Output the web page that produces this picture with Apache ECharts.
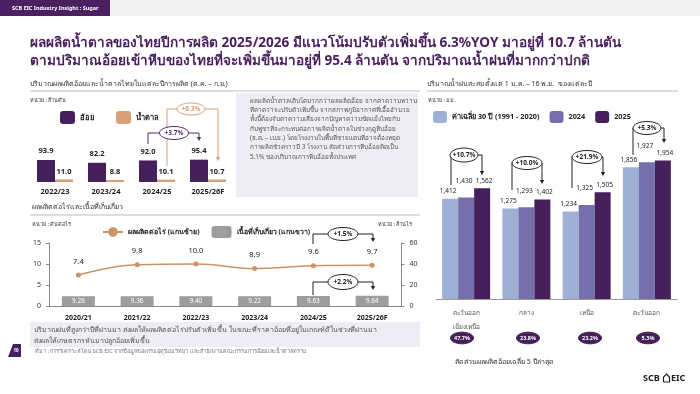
<!DOCTYPE html>
<html><head><meta charset="utf-8">
<script src="https://cdn.jsdelivr.net/npm/echarts@6/dist/echarts.min.js"></script>
<style>html,body{margin:0;padding:0;background:#fff}#c{width:700px;height:394px}</style>
</head><body><div id="c"></div>
<script>
// ---------------- DATA ----------------
const caneCats = ['2022/23', '2023/24', '2024/25', '2025/26F'];
const caneValues = [93.9, 82.2, 92.0, 95.4];
const sugarValues = [11.0, 8.8, 10.1, 10.7];

const yieldCats = ['2020/21', '2021/22', '2022/23', '2023/24', '2024/25', '2025/26F'];
const yieldPerRai = [7.4, 9.8, 10.0, 8.9, 9.6, 9.7];
const harvestArea = [9.28, 9.36, 9.40, 9.22, 9.63, 9.84];
const yieldLeftAxis = { min: 0, max: 15, interval: 5 };
const yieldRightAxis = { min: 0, max: 60, interval: 20 };

const rainCats = ['ตะวันออก\nเฉียงเหนือ', 'กลาง', 'เหนือ', 'ตะวันออก'];
const rainAvg30 = [1412, 1275, 1234, 1856];
const rain2024 = [1430, 1293, 1325, 1927];
const rain2025 = [1562, 1402, 1505, 1954];
const caneShare = ['47.7%', '23.8%', '23.2%', '5.3%'];

const caneChangeLabels = ['+3.7%', '+6.3%'];
const yieldChangeLabels = ['+1.5%', '+2.2%'];
const rainChangeLabels = ['+10.7%', '+10.0%', '+21.9%', '+5.3%'];

// ---------------- STYLE ----------------
const FF = "'Noto Sans', 'DejaVu Sans', sans-serif";
const PURPLE = '#46205a', ORANGE = '#d9a077', LINEOR = '#cc9268', GRAY = '#9d9d9d';
const R1 = '#9fb0d4', R2 = '#7570ab', R3 = '#46205a';
const TITLE = '#4a1f5f', BOXBG = '#eeedf3';

function fmt(v) { return v.toLocaleString('en-US'); }

const chart = echarts.init(document.getElementById('c'), null, { renderer: 'canvas' });

function txt(text, x, y, size, color, weight, align) {
  return { type: 'text', z: 50, style: { text, x, y, fill: color || '#333', font: (weight || 'normal') + ' ' + size + 'px ' + FF,
    textAlign: align || 'left', align: align || 'left', textVerticalAlign: 'middle', verticalAlign: 'middle' } };
}
function pline(points, color, z) {
  return { type: 'polyline', z: z || 40, shape: { points }, style: { stroke: color, lineWidth: 1, fill: null } };
}
function arrow(x, y, color) {
  return { type: 'polygon', z: 40, shape: { points: [[x - 2.2, y - 4], [x + 2.2, y - 4], [x, y]] }, style: { fill: color } };
}
function ell(cx, cy, rx, ry, stroke, fill, z) {
  return { type: 'ellipse', z: z || 45, shape: { cx, cy, rx, ry }, style: { stroke, fill: fill || '#fff', lineWidth: 1 } };
}
function annot(label, cx, cy, rx, ry, color, left, right, tip) {
  return [
    pline(left, color, 41),
    pline(right, color, 41),
    arrow(tip[0], tip[1], color),
    ell(cx, cy, rx, ry, color, '#fff', 45),
    txt(label, cx, cy, 6.5, color, 'bold', 'center')
  ];
}

const graphics = [];
// header
graphics.push({ type: 'rect', z: 1, shape: { x: 0, y: 0, width: 700, height: 16 }, style: { fill: '#f2f2f2' } });
graphics.push({ type: 'rect', z: 2, shape: { x: 0, y: 0, width: 110, height: 16 }, style: { fill: '#4a2060' } });
graphics.push(txt('SCB EIC Industry Insight : Sugar', 12, 8, 5.5, '#fff', 'bold'));
// title
graphics.push(txt('ผลผลิตน้ำตาลของไทยปีการผลิต 2025/2026 มีแนวโน้มปรับตัวเพิ่มขึ้น 6.3%YOY มาอยู่ที่ 10.7 ล้านตัน', 30, 43, 13.6, TITLE, 'bold'));
graphics.push(txt('ตามปริมาณอ้อยเข้าหีบของไทยที่จะเพิ่มขึ้นมาอยู่ที่ 95.4 ล้านตัน จากปริมาณน้ำฝนที่มากกว่าปกติ', 30, 61, 13.6, TITLE, 'bold'));

// section 1 heading
graphics.push(txt('ปริมาณผลผลิตอ้อยและน้ำตาลไทยในแต่ละปีการผลิต (ต.ค. – ก.ย.)', 30, 84, 7, '#333'));
graphics.push({ type: 'line', z: 5, shape: { x1: 30, y1: 91, x2: 420, y2: 91 }, style: { stroke: '#bdbdbd', lineWidth: 1 } });
graphics.push(txt('หน่วย : ล้านตัน', 30, 100, 5.5, '#333'));
// text box
graphics.push({ type: 'rect', z: 3, shape: { x: 236, y: 93, width: 182, height: 104 }, style: { fill: BOXBG } });
const boxLines = [
  'ผลผลิตน้ำตาลเติบโตมากกว่าผลผลิตอ้อย จากค่าความหวาน',
  'ที่คาดว่าจะปรับตัวเพิ่มขึ้น จากสภาพภูมิอากาศที่เอื้ออำนวย',
  'ทั้งนี้ต้องจับตาความเสี่ยงจากปัญหาความขัดแย้งไทยกับ',
  'กัมพูชาที่จะกระทบต่อการผลิตน้ำตาลในช่วงฤดูหีบอ้อย',
  '(ธ.ค. – เม.ย.) โดยโรงงานในพื้นที่ชายแดนที่อาจต้องหยุด',
  'การผลิตชั่วคราวมี 3 โรงงาน สัดส่วนการหีบอ้อยคิดเป็น',
  '5.1% ของปริมาณการหีบอ้อยทั้งประเทศ'
];
boxLines.forEach((l, i) => graphics.push(txt(l, 250, 101 + i * 9.3, 6.3, '#555')));

// cane annotations (orange drawn first, passes behind purple ellipse)
graphics.push(...annot(caneChangeLabels[1], 191, 109, 14, 6, ORANGE,
  [[167, 166], [167, 109], [177, 109]], [[205, 109], [218, 109], [218, 157]], [218, 161]));
graphics.push(...annot(caneChangeLabels[0], 174, 133, 14.5, 6.5, '#5a2a72',
  [[148, 144], [148, 133], [160, 133]], [[188, 133], [199, 133], [199, 137]], [199, 141]));

// section 2 heading
graphics.push(txt('ผลผลิตต่อไร่และเนื้อที่เก็บเกี่ยว', 32, 207, 7, '#333'));
graphics.push({ type: 'line', z: 5, shape: { x1: 30, y1: 215, x2: 420, y2: 215 }, style: { stroke: '#bdbdbd', lineWidth: 1 } });
graphics.push(txt('หน่วย : ตันต่อไร่', 32, 224, 5.5, '#333'));
graphics.push(txt('หน่วย : ล้านไร่', 378, 224, 5.5, '#333'));
graphics.push(...annot(yieldChangeLabels[0], 343, 234, 15, 6.5, '#222',
  [[313, 244], [313, 234], [328, 234]], [[358, 234], [373, 234], [373, 238]], [373, 242]));
graphics.push(...annot(yieldChangeLabels[1], 343, 282, 15, 7.5, '#222',
  [[313, 295], [313, 282], [328, 282]], [[358, 282], [373, 282], [373, 286]], [373, 290]));
// bottom text box
graphics.push({ type: 'rect', z: 3, shape: { x: 30, y: 322, width: 390, height: 25 }, style: { fill: BOXBG } });
graphics.push(txt('ปริมาณฝนที่สูงกว่าปีที่ผ่านมา ส่งผลให้ผลผลิตต่อไร่ปรับตัวเพิ่มขึ้น ในขณะที่ราคาอ้อยที่อยู่ในเกณฑ์ดีในช่วงที่ผ่านมา', 34, 329.5, 7, '#555'));
graphics.push(txt('ส่งผลให้เกษตรกรหันมาปลูกอ้อยเพิ่มขึ้น', 34, 340.5, 7, '#555'));

// footer
graphics.push({ type: 'polygon', z: 5, shape: { points: [[8, 357], [21, 357], [21, 344], [13, 344]] }, style: { fill: '#4a2060' } });
graphics.push(txt('10', 16, 351, 4.5, '#fff', 'bold', 'center'));
graphics.push(txt('ที่มา : การวิเคราะห์โดย SCB EIC จากข้อมูลของกรมอุตุนิยมวิทยา และสำนักงานคณะกรรมการอ้อยและน้ำตาลทราย', 35, 351, 5.5, '#777'));

// section 3 heading
graphics.push(txt('ปริมาณน้ำฝนสะสมตั้งแต่ 1 ม.ค. – 16 พ.ย.  ของแต่ละปี', 427, 84, 7, '#333'));
graphics.push({ type: 'line', z: 5, shape: { x1: 427, y1: 91, x2: 678, y2: 91 }, style: { stroke: '#bdbdbd', lineWidth: 1 } });
graphics.push(txt('หน่วย : มม.', 428, 100, 5.5, '#333'));
// rain annotations
graphics.push(...annot(rainChangeLabels[0], 464, 155, 14, 7, '#222',
  [[451, 185], [451, 155]], [[478, 155], [482, 155], [482, 171]], [482, 175]));
graphics.push(...annot(rainChangeLabels[1], 527, 163, 15, 6.5, '#222',
  [[512, 190], [512, 163]], [[542, 163], [542, 180]], [542, 184]));
graphics.push(...annot(rainChangeLabels[2], 587, 157, 15, 6.5, '#222',
  [[572, 188], [572, 157]], [[602, 157], [603, 157], [603, 172]], [603, 176]));
graphics.push(...annot(rainChangeLabels[3], 647, 128, 14, 6.5, '#222',
  [[633, 155], [633, 128]], [[661, 128], [664, 128], [664, 139]], [664, 143]));
// cane share pills
const pillX = [462, 528, 590, 648];
caneShare.forEach((s, i) => {
  graphics.push(ell(pillX[i], 338, 11.5, 5.8, PURPLE, PURPLE, 45));
  graphics.push(txt(s, pillX[i], 338, 5.5, '#fff', 'bold', 'center'));
});
graphics.push(txt('สัดส่วนผลผลิตอ้อยเฉลี่ย 5 ปีล่าสุด', 455, 362, 7, '#333'));
// logo
graphics.push(txt('SCB', 643, 378, 9, '#222', 'bold'));
graphics.push({ type: 'polyline', z: 50, shape: { points: [[663.5, 382], [663.5, 377], [666.5, 374], [669.5, 377], [669.5, 382], [663.5, 382]] }, style: { stroke: '#222', lineWidth: 1.2, fill: null } });
graphics.push(txt('EIC', 671, 378, 9, '#222', 'bold'));

// rain label nudges (styling only)
const rainLabelOffset = [[-2, 0], [-2, -9], [2, 0]];

const option = {
  animation: false,
  backgroundColor: '#fff',
  textStyle: { fontFamily: FF },
  graphic: { elements: graphics },
  legend: [
    { data: ['อ้อย', 'น้ำตาล'], left: 60, top: 111, padding: 0, itemWidth: 15, itemHeight: 13, itemGap: 22,
      textStyle: { fontSize: 7.5, fontWeight: 'bold', color: '#222', fontFamily: FF } },
    { data: ['ผลผลิตต่อไร่ (แกนซ้าย)', 'เนื้อที่เก็บเกี่ยว (แกนขวา)'], left: 102, top: 226, padding: 0, itemWidth: 20, itemHeight: 12, itemGap: 12,
      textStyle: { fontSize: 7, fontWeight: 'bold', color: '#222', fontFamily: FF } },
    { data: ['ค่าเฉลี่ย 30 ปี (1991 - 2020)', '2024', '2025'], left: 433, top: 111, padding: 0, itemWidth: 14, itemHeight: 12, itemGap: 10,
      textStyle: { fontSize: 7.3, fontWeight: 'bold', color: '#222', fontFamily: FF } }
  ],
  grid: [
    { left: 29.5, top: 135.2, width: 204, height: 46.8 },
    { left: 49, top: 243, width: 352.5, height: 63 },
    { left: 436, top: 121.7, width: 241, height: 177.3 }
  ],
  xAxis: [
    { gridIndex: 0, type: 'category', data: caneCats, axisLine: { show: false }, axisTick: { show: false },
      axisLabel: { fontSize: 7.5, fontWeight: 'bold', color: '#222', margin: 6 } },
    { gridIndex: 1, type: 'category', data: yieldCats, axisLine: { lineStyle: { color: '#888' } }, axisTick: { show: false },
      axisLabel: { fontSize: 7, fontWeight: 'bold', color: '#222', margin: 8 } },
    { gridIndex: 2, type: 'category', data: rainCats, axisLine: { lineStyle: { color: '#999' } }, axisTick: { show: false },
      axisLabel: { fontSize: 6.5, color: '#555', margin: 7, lineHeight: 14 } }
  ],
  yAxis: [
    { gridIndex: 0, type: 'value', min: 0, max: 200, show: false },
    { gridIndex: 1, type: 'value', min: yieldLeftAxis.min, max: yieldLeftAxis.max, interval: yieldLeftAxis.interval,
      axisLine: { show: true, lineStyle: { color: '#888' } }, axisTick: { show: true, length: 3, lineStyle: { color: '#888' } },
      splitLine: { show: false }, axisLabel: { fontSize: 7, color: '#333', margin: 8 } },
    { gridIndex: 1, type: 'value', position: 'right', min: yieldRightAxis.min, max: yieldRightAxis.max, interval: yieldRightAxis.interval,
      axisLine: { show: true, lineStyle: { color: '#888' } }, axisTick: { show: true, length: 3, lineStyle: { color: '#888' } },
      splitLine: { show: false }, axisLabel: { fontSize: 7, color: '#333', margin: 8 } },
    { gridIndex: 2, type: 'value', min: 0, max: 2500, show: false }
  ],
  series: [
    { name: 'อ้อย', type: 'bar', xAxisIndex: 0, yAxisIndex: 0, data: caneValues, barWidth: 18, barGap: '0%',
      itemStyle: { color: PURPLE }, label: { show: true, position: 'top', distance: 5, fontSize: 7.5, color: '#222', fontWeight: 'bold',
        formatter: p => p.value.toFixed(1) } },
    { name: 'น้ำตาล', type: 'bar', xAxisIndex: 0, yAxisIndex: 0, data: sugarValues, barWidth: 18, barGap: '0%',
      itemStyle: { color: ORANGE }, label: { show: true, position: 'top', distance: 4, fontSize: 7.5, color: '#222', fontWeight: 'bold',
        formatter: p => p.value.toFixed(1) } },
    { name: 'เนื้อที่เก็บเกี่ยว (แกนขวา)', type: 'bar', xAxisIndex: 1, yAxisIndex: 2, data: harvestArea, barWidth: 33,
      itemStyle: { color: GRAY }, label: { show: true, position: 'inside', fontSize: 6.5, color: '#fff',
        formatter: p => p.value.toFixed(2) } },
    { name: 'ผลผลิตต่อไร่ (แกนซ้าย)', type: 'line', xAxisIndex: 1, yAxisIndex: 1, data: yieldPerRai, smooth: 0.45,
      symbol: 'circle', symbolSize: 5, lineStyle: { color: LINEOR, width: 1.5 }, itemStyle: { color: LINEOR }, z: 5,
      label: { show: true, position: 'top', distance: 7, fontSize: 7.5, color: '#222', formatter: p => p.value.toFixed(1) } },
    { name: 'ค่าเฉลี่ย 30 ปี (1991 - 2020)', type: 'bar', xAxisIndex: 2, yAxisIndex: 3, data: rainAvg30, barWidth: 16, barGap: '0%',
      itemStyle: { color: R1 }, label: { show: true, position: 'top', distance: 4, offset: rainLabelOffset[0], fontSize: 6.5, color: '#222', formatter: p => fmt(p.value) } },
    { name: '2024', type: 'bar', xAxisIndex: 2, yAxisIndex: 3, data: rain2024, barWidth: 16, barGap: '0%',
      itemStyle: { color: R2 }, label: { show: true, position: 'top', distance: 4, offset: rainLabelOffset[1], fontSize: 6.5, color: '#222', formatter: p => fmt(p.value) } },
    { name: '2025', type: 'bar', xAxisIndex: 2, yAxisIndex: 3, data: rain2025, barWidth: 16, barGap: '0%',
      itemStyle: { color: R3 }, label: { show: true, position: 'top', distance: 4, offset: rainLabelOffset[2], fontSize: 6.5, color: '#222', formatter: p => fmt(p.value) } }
  ]
};
chart.setOption(option);
</script>
</body></html>
